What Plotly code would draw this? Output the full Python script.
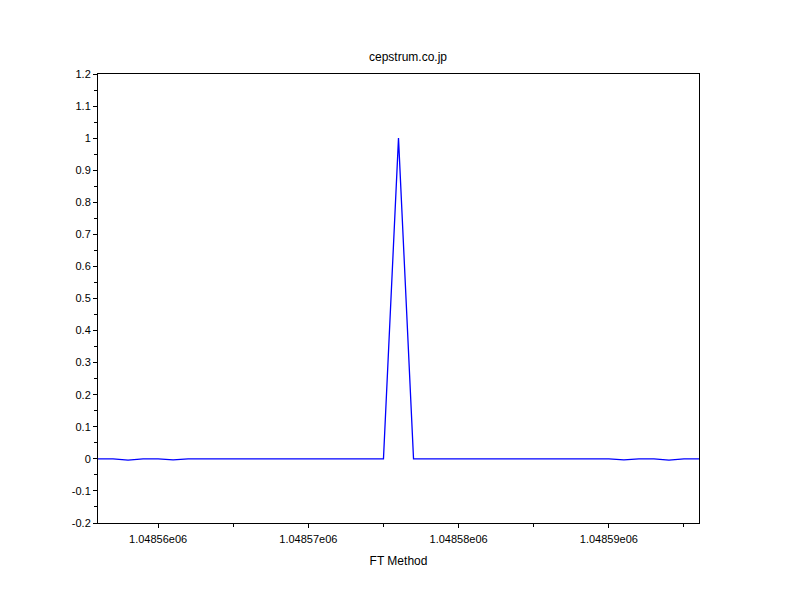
import plotly.graph_objects as go

# sample index (frequency bin) and FT magnitude
x_start = 1048556
y_values = [
    0.0, 0.0, -0.004, 0.0, 0.0, -0.003, 0.0, 0.0, 0.0, 0.0,
    0.0, 0.0, 0.0, 0.0, 0.0, 0.0, 0.0, 0.0, 0.0, 0.0,
    1.0,
    0.0, 0.0, 0.0, 0.0, 0.0, 0.0, 0.0, 0.0, 0.0, 0.0,
    0.0, 0.0, 0.0, 0.0, -0.003, 0.0, 0.0, -0.004, 0.0, 0.0,
]
x_values = [x_start + i for i in range(len(y_values))]

x_tickvals = [1048560, 1048570, 1048580, 1048590]
x_ticktext = ["1.04856e06", "1.04857e06", "1.04858e06", "1.04859e06"]
y_tickvals = [-0.2, -0.1, 0, 0.1, 0.2, 0.3, 0.4, 0.5, 0.6, 0.7, 0.8, 0.9, 1.0, 1.1, 1.2]
y_ticktext = ["-0.2", "-0.1", "0", "0.1", "0.2", "0.3", "0.4", "0.5", "0.6", "0.7",
              "0.8", "0.9", "1", "1.1", "1.2"]

font = "Liberation Sans, Arial, Helvetica, sans-serif"

fig = go.Figure()
fig.add_trace(go.Scatter(
    x=x_values, y=y_values, mode="lines",
    line=dict(color="#0000ff", width=1.3),
    showlegend=False, hoverinfo="skip",
))

fig.update_layout(
    width=800, height=600,
    paper_bgcolor="white", plot_bgcolor="white",
    margin=dict(l=90, r=109, t=66, b=85),
    font=dict(family=font, size=11, color="black"),
    title=dict(text="cepstrum.co.jp", x=0.5, xanchor="center",
               y=1 - 49 / 600, yref="container", yanchor="middle",
               font=dict(family=font, size=12, color="black")),
    xaxis=dict(
        range=[1048556, 1048596],
        tickvals=x_tickvals, ticktext=x_ticktext,
        ticks="outside", ticklen=4, tickwidth=1, tickcolor="black",
        ticklabelstandoff=2,
        showline=True, linecolor="black", linewidth=1, mirror=True,
        showgrid=False, zeroline=False,
        minor=dict(tick0=1048555, dtick=5, ticks="outside", ticklen=3,
                   tickcolor="black", showgrid=False),
        title=dict(text="FT Method", standoff=12,
                   font=dict(family=font, size=12, color="black")),
        tickfont=dict(family=font, size=11, color="black"),
    ),
    yaxis=dict(
        range=[-0.2, 1.2],
        tickvals=y_tickvals, ticktext=y_ticktext,
        ticks="outside", ticklen=4, tickwidth=1, tickcolor="black",
        showline=True, linecolor="black", linewidth=1, mirror=True,
        showgrid=False, zeroline=False,
        minor=dict(tick0=-0.25, dtick=0.1, ticks="outside", ticklen=3,
                   tickcolor="black", showgrid=False),
        tickfont=dict(family=font, size=11, color="black"),
    ),
)

fig.write_html("out.html")
